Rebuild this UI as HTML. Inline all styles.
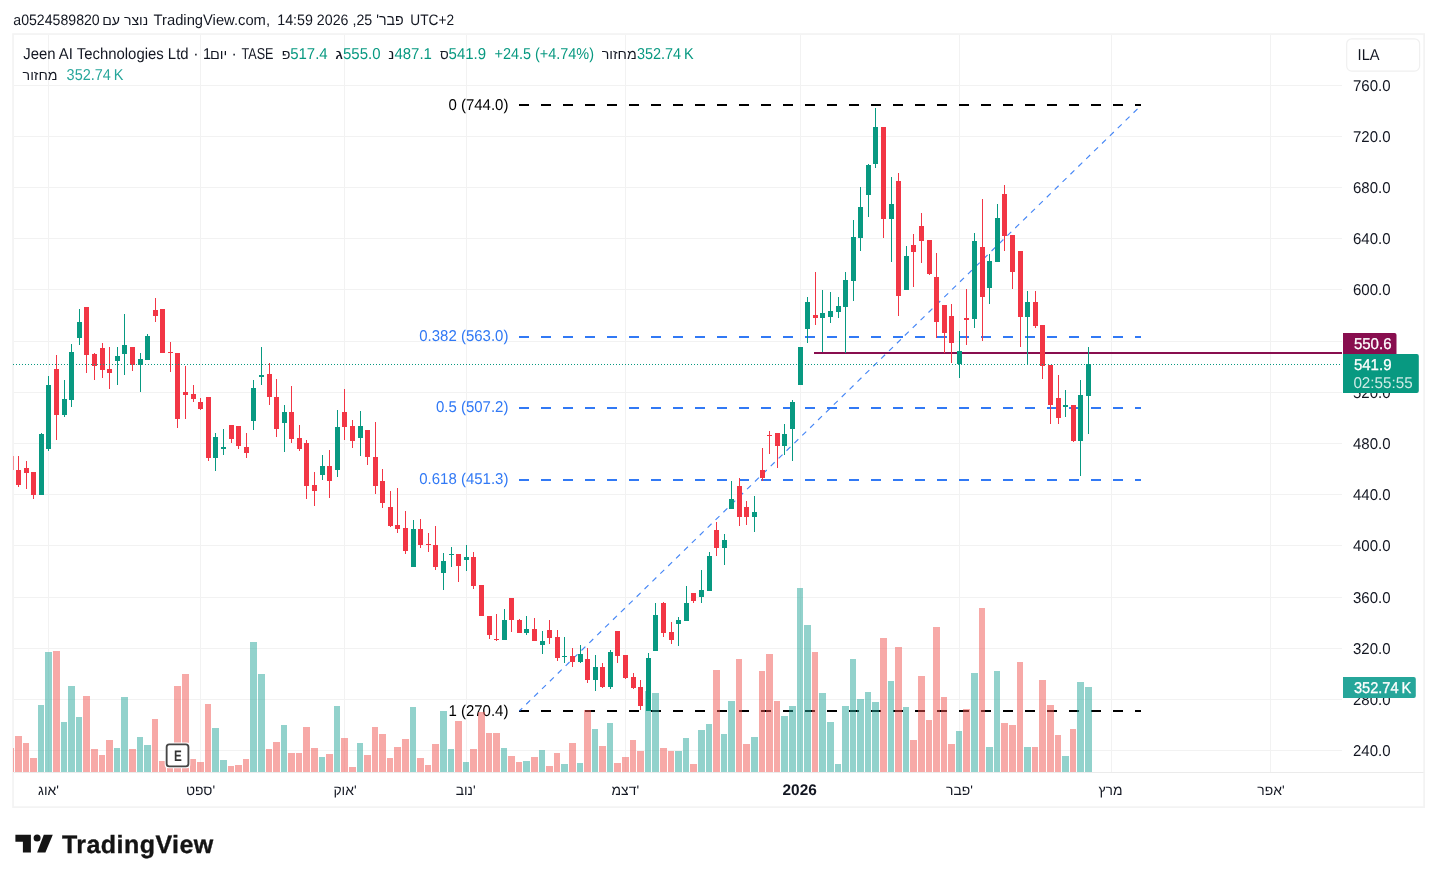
<!DOCTYPE html>
<html><head><meta charset="utf-8"><title>Jeen AI Technologies Ltd chart</title>
<style>html,body{margin:0;padding:0;background:#fff}svg{display:block}text{font-family:"Liberation Sans", Arial, sans-serif;text-rendering:geometricPrecision}</style></head>
<body><svg width="1437" height="882" viewBox="0 0 1437 882">
<rect width="1437" height="882" fill="#ffffff"/>
<g fill="#f2f2f2" shape-rendering="crispEdges"><rect x="14" y="85" width="1328" height="1"/><rect x="14" y="136" width="1328" height="1"/><rect x="14" y="187" width="1328" height="1"/><rect x="14" y="238" width="1328" height="1"/><rect x="14" y="289" width="1328" height="1"/><rect x="14" y="341" width="1328" height="1"/><rect x="14" y="392" width="1328" height="1"/><rect x="14" y="443" width="1328" height="1"/><rect x="14" y="494" width="1328" height="1"/><rect x="14" y="545" width="1328" height="1"/><rect x="14" y="597" width="1328" height="1"/><rect x="14" y="648" width="1328" height="1"/><rect x="14" y="699" width="1328" height="1"/><rect x="14" y="750" width="1328" height="1"/><rect x="48" y="35" width="1" height="737"/><rect x="200" y="35" width="1" height="737"/><rect x="344" y="35" width="1" height="737"/><rect x="466" y="35" width="1" height="737"/><rect x="625" y="35" width="1" height="737"/><rect x="800" y="35" width="1" height="737"/><rect x="959" y="35" width="1" height="737"/><rect x="1111" y="35" width="1" height="737"/><rect x="1270" y="35" width="1" height="737"/></g>
<rect x="14" y="772" width="1410" height="1" fill="#ebebeb" shape-rendering="crispEdges"/>
<line x1="519" y1="105" x2="1141" y2="105" stroke="#000000" stroke-width="2" stroke-dasharray="10 12" shape-rendering="crispEdges"/>
<line x1="519" y1="711" x2="1141" y2="711" stroke="#000000" stroke-width="2" stroke-dasharray="10 12" shape-rendering="crispEdges"/>
<line x1="519" y1="337" x2="1141" y2="337" stroke="#3179f5" stroke-width="2" stroke-dasharray="10 12" shape-rendering="crispEdges"/>
<line x1="519" y1="408" x2="1141" y2="408" stroke="#3179f5" stroke-width="2" stroke-dasharray="10 12" shape-rendering="crispEdges"/>
<line x1="519" y1="480" x2="1141" y2="480" stroke="#3179f5" stroke-width="2" stroke-dasharray="10 12" shape-rendering="crispEdges"/>
<line x1="519.3" y1="711" x2="1141" y2="105.5" stroke="#3179f5" stroke-width="1.15" stroke-dasharray="5.5 5.51" stroke-dashoffset="1.35" opacity="0.9"/>
<rect x="814" y="352" width="528" height="2" fill="#880e4f" shape-rendering="crispEdges"/>
<rect x="13.05" y="34.05" width="1411.10" height="773.10" fill="none" stroke="#f3f3f3" stroke-width="1.7"/>
<text transform="translate(508.4 110.0) scale(0.955 1)" font-size="15.7" fill="#000000" text-anchor="end" font-weight="normal" >0 (744.0)</text>
<text transform="translate(508.4 716.0) scale(0.955 1)" font-size="15.7" fill="#000000" text-anchor="end" font-weight="normal" >1 (270.4)</text>
<text transform="translate(508.4 341.0) scale(0.955 1)" font-size="15.7" fill="#3179f5" text-anchor="end" font-weight="normal" >0.382 (563.0)</text>
<text transform="translate(508.4 412.0) scale(0.955 1)" font-size="15.7" fill="#3179f5" text-anchor="end" font-weight="normal" >0.5 (507.2)</text>
<text transform="translate(508.4 484.0) scale(0.955 1)" font-size="15.7" fill="#3179f5" text-anchor="end" font-weight="normal" >0.618 (451.3)</text>
<g shape-rendering="crispEdges"><rect x="13" y="748" width="1" height="24" fill="rgba(239,83,80,0.5)"/><rect x="15" y="736" width="7" height="36" fill="rgba(239,83,80,0.5)"/><rect x="23" y="743" width="6" height="29" fill="rgba(239,83,80,0.5)"/><rect x="30" y="758" width="7" height="14" fill="rgba(239,83,80,0.5)"/><rect x="38" y="705" width="6" height="67" fill="rgba(38,166,154,0.5)"/><rect x="45" y="652" width="7" height="120" fill="rgba(38,166,154,0.5)"/><rect x="53" y="651" width="7" height="121" fill="rgba(239,83,80,0.5)"/><rect x="61" y="722" width="6" height="50" fill="rgba(38,166,154,0.5)"/><rect x="68" y="686" width="7" height="86" fill="rgba(38,166,154,0.5)"/><rect x="76" y="717" width="6" height="55" fill="rgba(38,166,154,0.5)"/><rect x="83" y="696" width="7" height="76" fill="rgba(239,83,80,0.5)"/><rect x="91" y="749" width="7" height="23" fill="rgba(239,83,80,0.5)"/><rect x="99" y="755" width="6" height="17" fill="rgba(239,83,80,0.5)"/><rect x="106" y="740" width="7" height="32" fill="rgba(239,83,80,0.5)"/><rect x="114" y="748" width="6" height="24" fill="rgba(38,166,154,0.5)"/><rect x="121" y="697" width="7" height="75" fill="rgba(38,166,154,0.5)"/><rect x="129" y="749" width="7" height="23" fill="rgba(239,83,80,0.5)"/><rect x="137" y="737" width="6" height="35" fill="rgba(38,166,154,0.5)"/><rect x="144" y="745" width="7" height="27" fill="rgba(38,166,154,0.5)"/><rect x="152" y="719" width="6" height="53" fill="rgba(239,83,80,0.5)"/><rect x="159" y="761" width="7" height="11" fill="rgba(239,83,80,0.5)"/><rect x="167" y="765" width="6" height="7" fill="rgba(239,83,80,0.5)"/><rect x="174" y="686" width="7" height="86" fill="rgba(239,83,80,0.5)"/><rect x="182" y="674" width="7" height="98" fill="rgba(239,83,80,0.5)"/><rect x="190" y="759" width="6" height="13" fill="rgba(239,83,80,0.5)"/><rect x="197" y="762" width="7" height="10" fill="rgba(239,83,80,0.5)"/><rect x="205" y="704" width="6" height="68" fill="rgba(239,83,80,0.5)"/><rect x="212" y="728" width="7" height="44" fill="rgba(38,166,154,0.5)"/><rect x="220" y="760" width="7" height="12" fill="rgba(38,166,154,0.5)"/><rect x="228" y="766" width="6" height="6" fill="rgba(239,83,80,0.5)"/><rect x="235" y="765" width="7" height="7" fill="rgba(239,83,80,0.5)"/><rect x="243" y="759" width="6" height="13" fill="rgba(239,83,80,0.5)"/><rect x="250" y="642" width="7" height="130" fill="rgba(38,166,154,0.5)"/><rect x="258" y="674" width="7" height="98" fill="rgba(38,166,154,0.5)"/><rect x="266" y="749" width="6" height="23" fill="rgba(239,83,80,0.5)"/><rect x="273" y="742" width="7" height="30" fill="rgba(239,83,80,0.5)"/><rect x="281" y="725" width="6" height="47" fill="rgba(38,166,154,0.5)"/><rect x="288" y="753" width="7" height="19" fill="rgba(239,83,80,0.5)"/><rect x="296" y="753" width="6" height="19" fill="rgba(239,83,80,0.5)"/><rect x="303" y="727" width="7" height="45" fill="rgba(239,83,80,0.5)"/><rect x="311" y="748" width="7" height="24" fill="rgba(239,83,80,0.5)"/><rect x="319" y="757" width="6" height="15" fill="rgba(38,166,154,0.5)"/><rect x="326" y="754" width="7" height="18" fill="rgba(239,83,80,0.5)"/><rect x="334" y="706" width="6" height="66" fill="rgba(38,166,154,0.5)"/><rect x="341" y="738" width="7" height="34" fill="rgba(239,83,80,0.5)"/><rect x="349" y="767" width="7" height="5" fill="rgba(239,83,80,0.5)"/><rect x="357" y="743" width="6" height="29" fill="rgba(38,166,154,0.5)"/><rect x="364" y="755" width="7" height="17" fill="rgba(239,83,80,0.5)"/><rect x="372" y="727" width="6" height="45" fill="rgba(239,83,80,0.5)"/><rect x="379" y="734" width="7" height="38" fill="rgba(239,83,80,0.5)"/><rect x="387" y="758" width="6" height="14" fill="rgba(239,83,80,0.5)"/><rect x="394" y="747" width="7" height="25" fill="rgba(239,83,80,0.5)"/><rect x="402" y="739" width="7" height="33" fill="rgba(239,83,80,0.5)"/><rect x="410" y="707" width="6" height="65" fill="rgba(38,166,154,0.5)"/><rect x="417" y="758" width="7" height="14" fill="rgba(239,83,80,0.5)"/><rect x="425" y="765" width="6" height="7" fill="rgba(239,83,80,0.5)"/><rect x="432" y="744" width="7" height="28" fill="rgba(239,83,80,0.5)"/><rect x="440" y="711" width="7" height="61" fill="rgba(38,166,154,0.5)"/><rect x="448" y="749" width="6" height="23" fill="rgba(38,166,154,0.5)"/><rect x="455" y="721" width="7" height="51" fill="rgba(239,83,80,0.5)"/><rect x="463" y="762" width="6" height="10" fill="rgba(38,166,154,0.5)"/><rect x="470" y="749" width="7" height="23" fill="rgba(239,83,80,0.5)"/><rect x="478" y="712" width="7" height="60" fill="rgba(239,83,80,0.5)"/><rect x="486" y="733" width="6" height="39" fill="rgba(239,83,80,0.5)"/><rect x="493" y="733" width="7" height="39" fill="rgba(239,83,80,0.5)"/><rect x="501" y="748" width="6" height="24" fill="rgba(38,166,154,0.5)"/><rect x="508" y="756" width="7" height="16" fill="rgba(239,83,80,0.5)"/><rect x="516" y="762" width="6" height="10" fill="rgba(239,83,80,0.5)"/><rect x="523" y="761" width="7" height="11" fill="rgba(38,166,154,0.5)"/><rect x="531" y="757" width="7" height="15" fill="rgba(239,83,80,0.5)"/><rect x="539" y="750" width="6" height="22" fill="rgba(38,166,154,0.5)"/><rect x="546" y="766" width="7" height="6" fill="rgba(239,83,80,0.5)"/><rect x="554" y="753" width="6" height="19" fill="rgba(239,83,80,0.5)"/><rect x="561" y="764" width="7" height="8" fill="rgba(38,166,154,0.5)"/><rect x="569" y="743" width="7" height="29" fill="rgba(239,83,80,0.5)"/><rect x="577" y="763" width="6" height="9" fill="rgba(38,166,154,0.5)"/><rect x="584" y="710" width="7" height="62" fill="rgba(239,83,80,0.5)"/><rect x="592" y="729" width="6" height="43" fill="rgba(38,166,154,0.5)"/><rect x="599" y="746" width="7" height="26" fill="rgba(239,83,80,0.5)"/><rect x="607" y="723" width="6" height="49" fill="rgba(38,166,154,0.5)"/><rect x="614" y="763" width="7" height="9" fill="rgba(239,83,80,0.5)"/><rect x="622" y="757" width="7" height="15" fill="rgba(239,83,80,0.5)"/><rect x="630" y="740" width="6" height="32" fill="rgba(239,83,80,0.5)"/><rect x="637" y="751" width="7" height="21" fill="rgba(239,83,80,0.5)"/><rect x="645" y="691" width="6" height="81" fill="rgba(38,166,154,0.5)"/><rect x="652" y="693" width="7" height="79" fill="rgba(38,166,154,0.5)"/><rect x="660" y="748" width="7" height="24" fill="rgba(239,83,80,0.5)"/><rect x="668" y="751" width="6" height="21" fill="rgba(239,83,80,0.5)"/><rect x="675" y="751" width="7" height="21" fill="rgba(38,166,154,0.5)"/><rect x="683" y="738" width="6" height="34" fill="rgba(38,166,154,0.5)"/><rect x="690" y="764" width="7" height="8" fill="rgba(239,83,80,0.5)"/><rect x="698" y="730" width="7" height="42" fill="rgba(38,166,154,0.5)"/><rect x="706" y="724" width="6" height="48" fill="rgba(38,166,154,0.5)"/><rect x="713" y="670" width="7" height="102" fill="rgba(239,83,80,0.5)"/><rect x="721" y="734" width="6" height="38" fill="rgba(38,166,154,0.5)"/><rect x="728" y="701" width="7" height="71" fill="rgba(38,166,154,0.5)"/><rect x="736" y="659" width="6" height="113" fill="rgba(239,83,80,0.5)"/><rect x="743" y="744" width="7" height="28" fill="rgba(239,83,80,0.5)"/><rect x="751" y="737" width="7" height="35" fill="rgba(38,166,154,0.5)"/><rect x="759" y="671" width="6" height="101" fill="rgba(239,83,80,0.5)"/><rect x="766" y="654" width="7" height="118" fill="rgba(239,83,80,0.5)"/><rect x="774" y="701" width="6" height="71" fill="rgba(239,83,80,0.5)"/><rect x="781" y="716" width="7" height="56" fill="rgba(38,166,154,0.5)"/><rect x="789" y="706" width="7" height="66" fill="rgba(38,166,154,0.5)"/><rect x="797" y="588" width="6" height="184" fill="rgba(38,166,154,0.5)"/><rect x="804" y="625" width="7" height="147" fill="rgba(38,166,154,0.5)"/><rect x="812" y="652" width="6" height="120" fill="rgba(239,83,80,0.5)"/><rect x="819" y="693" width="7" height="79" fill="rgba(38,166,154,0.5)"/><rect x="827" y="722" width="7" height="50" fill="rgba(38,166,154,0.5)"/><rect x="835" y="764" width="6" height="8" fill="rgba(38,166,154,0.5)"/><rect x="842" y="706" width="7" height="66" fill="rgba(38,166,154,0.5)"/><rect x="850" y="659" width="6" height="113" fill="rgba(38,166,154,0.5)"/><rect x="857" y="699" width="7" height="73" fill="rgba(38,166,154,0.5)"/><rect x="865" y="692" width="6" height="80" fill="rgba(38,166,154,0.5)"/><rect x="872" y="702" width="7" height="70" fill="rgba(38,166,154,0.5)"/><rect x="880" y="638" width="7" height="134" fill="rgba(239,83,80,0.5)"/><rect x="888" y="681" width="6" height="91" fill="rgba(38,166,154,0.5)"/><rect x="895" y="647" width="7" height="125" fill="rgba(239,83,80,0.5)"/><rect x="903" y="707" width="6" height="65" fill="rgba(38,166,154,0.5)"/><rect x="910" y="740" width="7" height="32" fill="rgba(239,83,80,0.5)"/><rect x="918" y="676" width="7" height="96" fill="rgba(239,83,80,0.5)"/><rect x="926" y="720" width="6" height="52" fill="rgba(239,83,80,0.5)"/><rect x="933" y="627" width="7" height="145" fill="rgba(239,83,80,0.5)"/><rect x="941" y="697" width="6" height="75" fill="rgba(239,83,80,0.5)"/><rect x="948" y="744" width="7" height="28" fill="rgba(239,83,80,0.5)"/><rect x="956" y="731" width="6" height="41" fill="rgba(38,166,154,0.5)"/><rect x="963" y="709" width="7" height="63" fill="rgba(239,83,80,0.5)"/><rect x="971" y="673" width="7" height="99" fill="rgba(38,166,154,0.5)"/><rect x="979" y="608" width="6" height="164" fill="rgba(239,83,80,0.5)"/><rect x="986" y="747" width="7" height="25" fill="rgba(38,166,154,0.5)"/><rect x="994" y="671" width="6" height="101" fill="rgba(38,166,154,0.5)"/><rect x="1001" y="723" width="7" height="49" fill="rgba(239,83,80,0.5)"/><rect x="1009" y="725" width="7" height="47" fill="rgba(239,83,80,0.5)"/><rect x="1017" y="662" width="6" height="110" fill="rgba(239,83,80,0.5)"/><rect x="1024" y="747" width="7" height="25" fill="rgba(38,166,154,0.5)"/><rect x="1032" y="747" width="6" height="25" fill="rgba(239,83,80,0.5)"/><rect x="1039" y="680" width="7" height="92" fill="rgba(239,83,80,0.5)"/><rect x="1047" y="705" width="7" height="67" fill="rgba(239,83,80,0.5)"/><rect x="1055" y="735" width="6" height="37" fill="rgba(239,83,80,0.5)"/><rect x="1062" y="756" width="7" height="16" fill="rgba(38,166,154,0.5)"/><rect x="1070" y="729" width="6" height="43" fill="rgba(239,83,80,0.5)"/><rect x="1077" y="682" width="7" height="90" fill="rgba(38,166,154,0.5)"/><rect x="1085" y="687" width="7" height="85" fill="rgba(38,166,154,0.5)"/></g>
<g shape-rendering="crispEdges"><rect x="13" y="456" width="1" height="14" fill="#f23645" opacity="0.55"/><rect x="18" y="456" width="1" height="31" fill="#f23645"/><rect x="16" y="470" width="5" height="15" fill="#f23645"/><rect x="26" y="461" width="1" height="28" fill="#f23645"/><rect x="24" y="468" width="5" height="5" fill="#f23645"/><rect x="33" y="472" width="1" height="27" fill="#f23645"/><rect x="31" y="472" width="5" height="23" fill="#f23645"/><rect x="41" y="433" width="1" height="62" fill="#089981"/><rect x="39" y="434" width="5" height="61" fill="#089981"/><rect x="48" y="376" width="1" height="75" fill="#089981"/><rect x="46" y="385" width="5" height="64" fill="#089981"/><rect x="56" y="355" width="1" height="85" fill="#f23645"/><rect x="54" y="369" width="5" height="46" fill="#f23645"/><rect x="64" y="380" width="1" height="37" fill="#089981"/><rect x="62" y="399" width="5" height="16" fill="#089981"/><rect x="71" y="344" width="1" height="63" fill="#089981"/><rect x="69" y="352" width="5" height="48" fill="#089981"/><rect x="79" y="309" width="1" height="36" fill="#089981"/><rect x="77" y="322" width="5" height="16" fill="#089981"/><rect x="86" y="307" width="1" height="66" fill="#f23645"/><rect x="84" y="307" width="5" height="48" fill="#f23645"/><rect x="94" y="353" width="1" height="27" fill="#f23645"/><rect x="92" y="354" width="5" height="12" fill="#f23645"/><rect x="102" y="343" width="1" height="35" fill="#f23645"/><rect x="100" y="348" width="5" height="22" fill="#f23645"/><rect x="109" y="347" width="1" height="42" fill="#f23645"/><rect x="107" y="369" width="5" height="4" fill="#f23645"/><rect x="117" y="347" width="1" height="38" fill="#089981"/><rect x="115" y="356" width="5" height="5" fill="#089981"/><rect x="124" y="314" width="1" height="61" fill="#089981"/><rect x="122" y="345" width="5" height="9" fill="#089981"/><rect x="132" y="347" width="1" height="24" fill="#f23645"/><rect x="130" y="347" width="5" height="18" fill="#f23645"/><rect x="140" y="353" width="1" height="39" fill="#089981"/><rect x="138" y="359" width="5" height="6" fill="#089981"/><rect x="147" y="334" width="1" height="26" fill="#089981"/><rect x="145" y="336" width="5" height="24" fill="#089981"/><rect x="155" y="298" width="1" height="24" fill="#f23645"/><rect x="153" y="310" width="5" height="6" fill="#f23645"/><rect x="162" y="309" width="1" height="44" fill="#f23645"/><rect x="160" y="309" width="5" height="44" fill="#f23645"/><rect x="170" y="342" width="1" height="30" fill="#f23645"/><rect x="168" y="352" width="5" height="1" fill="#f23645"/><rect x="177" y="353" width="1" height="75" fill="#f23645"/><rect x="175" y="353" width="5" height="66" fill="#f23645"/><rect x="185" y="366" width="1" height="53" fill="#f23645"/><rect x="183" y="392" width="5" height="3" fill="#f23645"/><rect x="193" y="385" width="1" height="17" fill="#f23645"/><rect x="191" y="394" width="5" height="5" fill="#f23645"/><rect x="200" y="398" width="1" height="12" fill="#f23645"/><rect x="198" y="402" width="5" height="7" fill="#f23645"/><rect x="208" y="397" width="1" height="64" fill="#f23645"/><rect x="206" y="397" width="5" height="61" fill="#f23645"/><rect x="215" y="433" width="1" height="38" fill="#089981"/><rect x="213" y="437" width="5" height="21" fill="#089981"/><rect x="223" y="429" width="1" height="26" fill="#089981"/><rect x="221" y="447" width="5" height="2" fill="#089981"/><rect x="231" y="425" width="1" height="18" fill="#f23645"/><rect x="229" y="425" width="5" height="14" fill="#f23645"/><rect x="238" y="426" width="1" height="23" fill="#f23645"/><rect x="236" y="426" width="5" height="20" fill="#f23645"/><rect x="246" y="433" width="1" height="25" fill="#f23645"/><rect x="244" y="447" width="5" height="6" fill="#f23645"/><rect x="253" y="380" width="1" height="50" fill="#089981"/><rect x="251" y="388" width="5" height="33" fill="#089981"/><rect x="261" y="347" width="1" height="38" fill="#089981"/><rect x="259" y="375" width="5" height="2" fill="#089981"/><rect x="269" y="363" width="1" height="42" fill="#f23645"/><rect x="267" y="374" width="5" height="23" fill="#f23645"/><rect x="276" y="379" width="1" height="58" fill="#f23645"/><rect x="274" y="397" width="5" height="32" fill="#f23645"/><rect x="284" y="405" width="1" height="47" fill="#089981"/><rect x="282" y="412" width="5" height="11" fill="#089981"/><rect x="291" y="386" width="1" height="57" fill="#f23645"/><rect x="289" y="412" width="5" height="27" fill="#f23645"/><rect x="299" y="425" width="1" height="26" fill="#f23645"/><rect x="297" y="438" width="5" height="11" fill="#f23645"/><rect x="306" y="440" width="1" height="59" fill="#f23645"/><rect x="304" y="443" width="5" height="43" fill="#f23645"/><rect x="314" y="472" width="1" height="34" fill="#f23645"/><rect x="312" y="485" width="5" height="6" fill="#f23645"/><rect x="322" y="455" width="1" height="25" fill="#089981"/><rect x="320" y="466" width="5" height="9" fill="#089981"/><rect x="329" y="450" width="1" height="48" fill="#f23645"/><rect x="327" y="466" width="5" height="15" fill="#f23645"/><rect x="337" y="410" width="1" height="67" fill="#089981"/><rect x="335" y="427" width="5" height="43" fill="#089981"/><rect x="344" y="389" width="1" height="51" fill="#f23645"/><rect x="342" y="412" width="5" height="15" fill="#f23645"/><rect x="352" y="420" width="1" height="28" fill="#f23645"/><rect x="350" y="426" width="5" height="15" fill="#f23645"/><rect x="360" y="411" width="1" height="45" fill="#089981"/><rect x="358" y="426" width="5" height="12" fill="#089981"/><rect x="367" y="430" width="1" height="35" fill="#f23645"/><rect x="365" y="430" width="5" height="27" fill="#f23645"/><rect x="375" y="422" width="1" height="72" fill="#f23645"/><rect x="373" y="457" width="5" height="29" fill="#f23645"/><rect x="382" y="469" width="1" height="39" fill="#f23645"/><rect x="380" y="481" width="5" height="22" fill="#f23645"/><rect x="390" y="491" width="1" height="36" fill="#f23645"/><rect x="388" y="507" width="5" height="19" fill="#f23645"/><rect x="397" y="488" width="1" height="45" fill="#f23645"/><rect x="395" y="525" width="5" height="4" fill="#f23645"/><rect x="405" y="511" width="1" height="43" fill="#f23645"/><rect x="403" y="528" width="5" height="23" fill="#f23645"/><rect x="413" y="520" width="1" height="47" fill="#089981"/><rect x="411" y="529" width="5" height="38" fill="#089981"/><rect x="420" y="519" width="1" height="29" fill="#f23645"/><rect x="418" y="529" width="5" height="16" fill="#f23645"/><rect x="428" y="533" width="1" height="19" fill="#f23645"/><rect x="426" y="544" width="5" height="1" fill="#f23645"/><rect x="435" y="526" width="1" height="44" fill="#f23645"/><rect x="433" y="545" width="5" height="22" fill="#f23645"/><rect x="443" y="553" width="1" height="37" fill="#089981"/><rect x="441" y="561" width="5" height="12" fill="#089981"/><rect x="451" y="547" width="1" height="20" fill="#089981"/><rect x="449" y="554" width="5" height="1" fill="#089981"/><rect x="458" y="554" width="1" height="28" fill="#f23645"/><rect x="456" y="554" width="5" height="12" fill="#f23645"/><rect x="466" y="545" width="1" height="26" fill="#089981"/><rect x="464" y="557" width="5" height="3" fill="#089981"/><rect x="473" y="552" width="1" height="37" fill="#f23645"/><rect x="471" y="557" width="5" height="29" fill="#f23645"/><rect x="481" y="585" width="1" height="31" fill="#f23645"/><rect x="479" y="585" width="5" height="31" fill="#f23645"/><rect x="489" y="616" width="1" height="23" fill="#f23645"/><rect x="487" y="616" width="5" height="19" fill="#f23645"/><rect x="496" y="614" width="1" height="27" fill="#f23645"/><rect x="494" y="639" width="5" height="1" fill="#f23645"/><rect x="504" y="609" width="1" height="31" fill="#089981"/><rect x="502" y="620" width="5" height="20" fill="#089981"/><rect x="511" y="598" width="1" height="34" fill="#f23645"/><rect x="509" y="598" width="5" height="22" fill="#f23645"/><rect x="519" y="619" width="1" height="14" fill="#f23645"/><rect x="517" y="620" width="5" height="13" fill="#f23645"/><rect x="526" y="616" width="1" height="19" fill="#089981"/><rect x="524" y="629" width="5" height="4" fill="#089981"/><rect x="534" y="618" width="1" height="23" fill="#f23645"/><rect x="532" y="629" width="5" height="12" fill="#f23645"/><rect x="542" y="631" width="1" height="23" fill="#089981"/><rect x="540" y="641" width="5" height="4" fill="#089981"/><rect x="549" y="620" width="1" height="24" fill="#f23645"/><rect x="547" y="630" width="5" height="8" fill="#f23645"/><rect x="557" y="630" width="1" height="31" fill="#f23645"/><rect x="555" y="637" width="5" height="21" fill="#f23645"/><rect x="564" y="637" width="1" height="26" fill="#089981"/><rect x="562" y="656" width="5" height="1" fill="#089981"/><rect x="572" y="648" width="1" height="19" fill="#f23645"/><rect x="570" y="656" width="5" height="6" fill="#f23645"/><rect x="580" y="645" width="1" height="18" fill="#089981"/><rect x="578" y="654" width="5" height="8" fill="#089981"/><rect x="587" y="648" width="1" height="35" fill="#f23645"/><rect x="585" y="659" width="5" height="21" fill="#f23645"/><rect x="595" y="655" width="1" height="36" fill="#089981"/><rect x="593" y="667" width="5" height="13" fill="#089981"/><rect x="602" y="663" width="1" height="25" fill="#f23645"/><rect x="600" y="667" width="5" height="20" fill="#f23645"/><rect x="610" y="650" width="1" height="39" fill="#089981"/><rect x="608" y="652" width="5" height="35" fill="#089981"/><rect x="617" y="631" width="1" height="32" fill="#f23645"/><rect x="615" y="631" width="5" height="25" fill="#f23645"/><rect x="625" y="655" width="1" height="24" fill="#f23645"/><rect x="623" y="655" width="5" height="23" fill="#f23645"/><rect x="633" y="673" width="1" height="16" fill="#f23645"/><rect x="631" y="677" width="5" height="11" fill="#f23645"/><rect x="640" y="680" width="1" height="30" fill="#f23645"/><rect x="638" y="687" width="5" height="19" fill="#f23645"/><rect x="648" y="653" width="1" height="58" fill="#089981"/><rect x="646" y="658" width="5" height="53" fill="#089981"/><rect x="655" y="603" width="1" height="48" fill="#089981"/><rect x="653" y="615" width="5" height="36" fill="#089981"/><rect x="663" y="602" width="1" height="35" fill="#f23645"/><rect x="661" y="603" width="5" height="30" fill="#f23645"/><rect x="671" y="622" width="1" height="22" fill="#f23645"/><rect x="669" y="632" width="5" height="8" fill="#f23645"/><rect x="678" y="617" width="1" height="29" fill="#089981"/><rect x="676" y="620" width="5" height="4" fill="#089981"/><rect x="686" y="586" width="1" height="35" fill="#089981"/><rect x="684" y="603" width="5" height="18" fill="#089981"/><rect x="693" y="593" width="1" height="10" fill="#f23645"/><rect x="691" y="593" width="5" height="8" fill="#f23645"/><rect x="701" y="570" width="1" height="33" fill="#089981"/><rect x="699" y="590" width="5" height="7" fill="#089981"/><rect x="709" y="552" width="1" height="39" fill="#089981"/><rect x="707" y="556" width="5" height="35" fill="#089981"/><rect x="716" y="522" width="1" height="34" fill="#f23645"/><rect x="714" y="530" width="5" height="18" fill="#f23645"/><rect x="724" y="534" width="1" height="31" fill="#089981"/><rect x="722" y="540" width="5" height="8" fill="#089981"/><rect x="731" y="481" width="1" height="28" fill="#089981"/><rect x="729" y="499" width="5" height="10" fill="#089981"/><rect x="739" y="478" width="1" height="48" fill="#f23645"/><rect x="737" y="486" width="5" height="31" fill="#f23645"/><rect x="746" y="501" width="1" height="24" fill="#f23645"/><rect x="744" y="507" width="5" height="10" fill="#f23645"/><rect x="754" y="496" width="1" height="36" fill="#089981"/><rect x="752" y="512" width="5" height="5" fill="#089981"/><rect x="762" y="448" width="1" height="33" fill="#f23645"/><rect x="760" y="470" width="5" height="8" fill="#f23645"/><rect x="769" y="431" width="1" height="23" fill="#f23645"/><rect x="767" y="435" width="5" height="1" fill="#f23645"/><rect x="777" y="433" width="1" height="35" fill="#f23645"/><rect x="775" y="433" width="5" height="13" fill="#f23645"/><rect x="784" y="424" width="1" height="31" fill="#089981"/><rect x="782" y="434" width="5" height="12" fill="#089981"/><rect x="792" y="400" width="1" height="61" fill="#089981"/><rect x="790" y="402" width="5" height="27" fill="#089981"/><rect x="800" y="347" width="1" height="38" fill="#089981"/><rect x="798" y="347" width="5" height="38" fill="#089981"/><rect x="807" y="297" width="1" height="46" fill="#089981"/><rect x="805" y="302" width="5" height="27" fill="#089981"/><rect x="815" y="272" width="1" height="53" fill="#f23645"/><rect x="813" y="315" width="5" height="3" fill="#f23645"/><rect x="822" y="290" width="1" height="62" fill="#089981"/><rect x="820" y="313" width="5" height="5" fill="#089981"/><rect x="830" y="292" width="1" height="31" fill="#089981"/><rect x="828" y="311" width="5" height="6" fill="#089981"/><rect x="838" y="297" width="1" height="21" fill="#089981"/><rect x="836" y="306" width="5" height="6" fill="#089981"/><rect x="845" y="272" width="1" height="81" fill="#089981"/><rect x="843" y="280" width="5" height="27" fill="#089981"/><rect x="853" y="220" width="1" height="81" fill="#089981"/><rect x="851" y="237" width="5" height="44" fill="#089981"/><rect x="860" y="187" width="1" height="64" fill="#089981"/><rect x="858" y="207" width="5" height="31" fill="#089981"/><rect x="868" y="164" width="1" height="53" fill="#089981"/><rect x="866" y="165" width="5" height="30" fill="#089981"/><rect x="875" y="108" width="1" height="60" fill="#089981"/><rect x="873" y="127" width="5" height="37" fill="#089981"/><rect x="883" y="127" width="1" height="111" fill="#f23645"/><rect x="881" y="127" width="5" height="92" fill="#f23645"/><rect x="891" y="177" width="1" height="85" fill="#089981"/><rect x="889" y="204" width="5" height="15" fill="#089981"/><rect x="898" y="173" width="1" height="143" fill="#f23645"/><rect x="896" y="181" width="5" height="115" fill="#f23645"/><rect x="906" y="246" width="1" height="44" fill="#089981"/><rect x="904" y="256" width="5" height="34" fill="#089981"/><rect x="913" y="234" width="1" height="53" fill="#f23645"/><rect x="911" y="245" width="5" height="7" fill="#f23645"/><rect x="921" y="213" width="1" height="50" fill="#f23645"/><rect x="919" y="226" width="5" height="15" fill="#f23645"/><rect x="929" y="240" width="1" height="35" fill="#f23645"/><rect x="927" y="240" width="5" height="34" fill="#f23645"/><rect x="936" y="253" width="1" height="85" fill="#f23645"/><rect x="934" y="277" width="5" height="45" fill="#f23645"/><rect x="944" y="305" width="1" height="48" fill="#f23645"/><rect x="942" y="305" width="5" height="28" fill="#f23645"/><rect x="951" y="304" width="1" height="59" fill="#f23645"/><rect x="949" y="316" width="5" height="27" fill="#f23645"/><rect x="959" y="331" width="1" height="47" fill="#089981"/><rect x="957" y="351" width="5" height="13" fill="#089981"/><rect x="966" y="289" width="1" height="56" fill="#f23645"/><rect x="964" y="318" width="5" height="2" fill="#f23645"/><rect x="974" y="233" width="1" height="95" fill="#089981"/><rect x="972" y="241" width="5" height="78" fill="#089981"/><rect x="982" y="199" width="1" height="142" fill="#f23645"/><rect x="980" y="247" width="5" height="50" fill="#f23645"/><rect x="989" y="254" width="1" height="50" fill="#089981"/><rect x="987" y="261" width="5" height="27" fill="#089981"/><rect x="997" y="204" width="1" height="58" fill="#089981"/><rect x="995" y="218" width="5" height="44" fill="#089981"/><rect x="1004" y="185" width="1" height="66" fill="#f23645"/><rect x="1002" y="194" width="5" height="42" fill="#f23645"/><rect x="1012" y="235" width="1" height="54" fill="#f23645"/><rect x="1010" y="235" width="5" height="37" fill="#f23645"/><rect x="1020" y="251" width="1" height="96" fill="#f23645"/><rect x="1018" y="251" width="5" height="66" fill="#f23645"/><rect x="1027" y="291" width="1" height="74" fill="#089981"/><rect x="1025" y="302" width="5" height="15" fill="#089981"/><rect x="1035" y="291" width="1" height="37" fill="#f23645"/><rect x="1033" y="302" width="5" height="24" fill="#f23645"/><rect x="1042" y="325" width="1" height="54" fill="#f23645"/><rect x="1040" y="325" width="5" height="41" fill="#f23645"/><rect x="1050" y="365" width="1" height="59" fill="#f23645"/><rect x="1048" y="365" width="5" height="40" fill="#f23645"/><rect x="1058" y="375" width="1" height="49" fill="#f23645"/><rect x="1056" y="398" width="5" height="20" fill="#f23645"/><rect x="1065" y="390" width="1" height="27" fill="#089981"/><rect x="1063" y="405" width="5" height="2" fill="#089981"/><rect x="1073" y="405" width="1" height="37" fill="#f23645"/><rect x="1071" y="405" width="5" height="36" fill="#f23645"/><rect x="1080" y="380" width="1" height="96" fill="#089981"/><rect x="1078" y="395" width="5" height="46" fill="#089981"/><rect x="1088" y="347" width="1" height="87" fill="#089981"/><rect x="1086" y="364" width="5" height="32" fill="#089981"/></g>
<line x1="13" y1="364.5" x2="1342" y2="364.5" stroke="#089981" stroke-width="1" stroke-dasharray="1 2" shape-rendering="crispEdges"/>
<text x="1353.0" y="90.5" font-size="15.6" fill="#131722" text-anchor="start" font-weight="normal"  textLength="37.6" lengthAdjust="spacingAndGlyphs">760.0</text>
<text x="1353.0" y="141.5" font-size="15.6" fill="#131722" text-anchor="start" font-weight="normal"  textLength="37.6" lengthAdjust="spacingAndGlyphs">720.0</text>
<text x="1353.0" y="192.5" font-size="15.6" fill="#131722" text-anchor="start" font-weight="normal"  textLength="37.6" lengthAdjust="spacingAndGlyphs">680.0</text>
<text x="1353.0" y="243.5" font-size="15.6" fill="#131722" text-anchor="start" font-weight="normal"  textLength="37.6" lengthAdjust="spacingAndGlyphs">640.0</text>
<text x="1353.0" y="294.5" font-size="15.6" fill="#131722" text-anchor="start" font-weight="normal"  textLength="37.6" lengthAdjust="spacingAndGlyphs">600.0</text>
<text x="1353.0" y="346.5" font-size="15.6" fill="#131722" text-anchor="start" font-weight="normal"  textLength="37.6" lengthAdjust="spacingAndGlyphs">560.0</text>
<text x="1353.0" y="397.5" font-size="15.6" fill="#131722" text-anchor="start" font-weight="normal"  textLength="37.6" lengthAdjust="spacingAndGlyphs">520.0</text>
<text x="1353.0" y="448.5" font-size="15.6" fill="#131722" text-anchor="start" font-weight="normal"  textLength="37.6" lengthAdjust="spacingAndGlyphs">480.0</text>
<text x="1353.0" y="499.5" font-size="15.6" fill="#131722" text-anchor="start" font-weight="normal"  textLength="37.6" lengthAdjust="spacingAndGlyphs">440.0</text>
<text x="1353.0" y="550.5" font-size="15.6" fill="#131722" text-anchor="start" font-weight="normal"  textLength="37.6" lengthAdjust="spacingAndGlyphs">400.0</text>
<text x="1353.0" y="602.5" font-size="15.6" fill="#131722" text-anchor="start" font-weight="normal"  textLength="37.6" lengthAdjust="spacingAndGlyphs">360.0</text>
<text x="1353.0" y="653.5" font-size="15.6" fill="#131722" text-anchor="start" font-weight="normal"  textLength="37.6" lengthAdjust="spacingAndGlyphs">320.0</text>
<text x="1353.0" y="704.5" font-size="15.6" fill="#131722" text-anchor="start" font-weight="normal"  textLength="37.6" lengthAdjust="spacingAndGlyphs">280.0</text>
<text x="1353.0" y="755.5" font-size="15.6" fill="#131722" text-anchor="start" font-weight="normal"  textLength="37.6" lengthAdjust="spacingAndGlyphs">240.0</text>
<path d="M1343 333h51.5a2 2 0 0 1 2 2v19h-53.5z" fill="#880e4f"/>
<text x="1353.9" y="348.6" font-size="15.6" fill="#ffffff" text-anchor="start" font-weight="normal" stroke="#ffffff" stroke-width="0.3" textLength="37.6" lengthAdjust="spacingAndGlyphs">550.6</text>
<path d="M1343 354h73.8a2 2 0 0 1 2 2v35a2 2 0 0 1 -2 2h-73.8z" fill="#089981"/>
<text x="1353.9" y="369.7" font-size="15.6" fill="#ffffff" text-anchor="start" font-weight="normal" stroke="#ffffff" stroke-width="0.3" textLength="37.6" lengthAdjust="spacingAndGlyphs">541.9</text>
<text x="1353.4" y="387.8" font-size="15.6" fill="#ffffff" text-anchor="start" font-weight="normal" fill-opacity="0.8" textLength="59.3" lengthAdjust="spacingAndGlyphs">02:55:55</text>
<path d="M1343 677h70.8a2 2 0 0 1 2 2v17a2 2 0 0 1 -2 2h-70.8z" fill="#26a69a"/>
<text x="1354.0" y="692.8" font-size="15.6" fill="#ffffff" text-anchor="start" font-weight="normal" stroke="#ffffff" stroke-width="0.3" textLength="57.2" lengthAdjust="spacingAndGlyphs">352.74&#8201;K</text>
<rect x="1346.7" y="38.8" width="72.9" height="32.3" rx="5" fill="#ffffff" stroke="#f0f0f0" stroke-width="1.2"/>
<text x="1357.6" y="60.1" font-size="15.8" fill="#131722" text-anchor="start" font-weight="normal"  textLength="22" lengthAdjust="spacingAndGlyphs">ILA</text>
<rect x="164.7" y="742.4" width="25.6" height="25.9" rx="3.6" fill="#ffffff"/>
<rect x="166.65" y="744.35" width="21.75" height="22.0" rx="2.6" fill="#ffffff" stroke="#464646" stroke-width="1.85"/>
<text transform="translate(177.9 760.9) scale(0.77 1)" font-size="15.2" fill="#333333" text-anchor="middle" font-weight="bold" >E</text>
<text x="48.5" y="795.3" font-size="13.9" fill="#131722" text-anchor="middle" font-weight="normal" >אוג'</text>
<text x="200.5" y="795.3" font-size="13.9" fill="#131722" text-anchor="middle" font-weight="normal" >ספט'</text>
<text x="345" y="795.3" font-size="13.9" fill="#131722" text-anchor="middle" font-weight="normal" >אוק'</text>
<text x="465.7" y="795.3" font-size="13.9" fill="#131722" text-anchor="middle" font-weight="normal" >נוב'</text>
<text x="625.3" y="795.3" font-size="13.9" fill="#131722" text-anchor="middle" font-weight="normal" >דצמ'</text>
<text x="799.7" y="795.3" font-size="15.4" fill="#131722" text-anchor="middle" font-weight="bold" >2026</text>
<text x="959.5" y="795.3" font-size="13.9" fill="#131722" text-anchor="middle" font-weight="normal" >פבר'</text>
<text x="1110.6" y="795.3" font-size="13.9" fill="#131722" text-anchor="middle" font-weight="normal" >מרץ</text>
<text x="1271" y="795.3" font-size="13.9" fill="#131722" text-anchor="middle" font-weight="normal" >אפר'</text>
<text x="13.3" y="25" font-size="15.1" fill="#131722" text-anchor="start" font-weight="normal"  textLength="86.4" lengthAdjust="spacingAndGlyphs">a0524589820</text>
<text x="102.2" y="25" font-size="13.4" fill="#131722" text-anchor="start" font-weight="normal"  textLength="46.1" lengthAdjust="spacingAndGlyphs">נוצר עם</text>
<text x="153.6" y="25" font-size="15.1" fill="#131722" text-anchor="start" font-weight="normal"  textLength="116.4" lengthAdjust="spacingAndGlyphs">TradingView.com,</text>
<text x="277.3" y="25" font-size="15.1" fill="#131722" text-anchor="start" font-weight="normal"  textLength="126.4" lengthAdjust="spacingAndGlyphs">פבר' 25, 2026 14:59</text>
<text x="410.3" y="25" font-size="15.1" fill="#131722" text-anchor="start" font-weight="normal"  textLength="43.7" lengthAdjust="spacingAndGlyphs">UTC+2</text>
<text x="23.2" y="58.9" font-size="15.8" fill="#131722" text-anchor="start" font-weight="normal"  textLength="165.4" lengthAdjust="spacingAndGlyphs">Jeen AI Technologies Ltd</text>
<text x="195.9" y="58.9" font-size="15.8" fill="#131722" text-anchor="middle" font-weight="normal" >·</text>
<text transform="translate(203.0 58.9) scale(0.92 1)" font-size="15.8" fill="#131722" text-anchor="start" font-weight="normal" >1</text>
<text x="209.9" y="58.9" font-size="13.4" fill="#131722" text-anchor="start" font-weight="normal"  textLength="17.3" lengthAdjust="spacingAndGlyphs">יום</text>
<text x="234.2" y="58.9" font-size="15.8" fill="#131722" text-anchor="middle" font-weight="normal" >·</text>
<text x="241.5" y="58.9" font-size="15.8" fill="#131722" text-anchor="start" font-weight="normal"  textLength="32.0" lengthAdjust="spacingAndGlyphs">TASE</text>
<text x="281.7" y="58.9" font-size="13.4" fill="#131722" text-anchor="start" font-weight="normal"  textLength="8.7" lengthAdjust="spacingAndGlyphs">פ</text>
<text x="290.2" y="58.9" font-size="15.8" fill="#089981" text-anchor="start" font-weight="normal"  textLength="37.5" lengthAdjust="spacingAndGlyphs">517.4</text>
<text x="335.3" y="58.9" font-size="13.4" fill="#131722" text-anchor="start" font-weight="normal"  textLength="7.8" lengthAdjust="spacingAndGlyphs">ג</text>
<text x="343.0" y="58.9" font-size="15.8" fill="#089981" text-anchor="start" font-weight="normal"  textLength="37.5" lengthAdjust="spacingAndGlyphs">555.0</text>
<text x="388.3" y="58.9" font-size="13.4" fill="#131722" text-anchor="start" font-weight="normal"  textLength="6.2" lengthAdjust="spacingAndGlyphs">נ</text>
<text x="394.4" y="58.9" font-size="15.8" fill="#089981" text-anchor="start" font-weight="normal"  textLength="37.5" lengthAdjust="spacingAndGlyphs">487.1</text>
<text x="440.0" y="58.9" font-size="13.4" fill="#131722" text-anchor="start" font-weight="normal"  textLength="8.7" lengthAdjust="spacingAndGlyphs">ס</text>
<text x="448.6" y="58.9" font-size="15.8" fill="#089981" text-anchor="start" font-weight="normal"  textLength="37.5" lengthAdjust="spacingAndGlyphs">541.9</text>
<text x="494.5" y="58.9" font-size="15.8" fill="#089981" text-anchor="start" font-weight="normal"  textLength="99.5" lengthAdjust="spacingAndGlyphs">+24.5 (+4.74%)</text>
<text x="601.7" y="58.9" font-size="13.4" fill="#131722" text-anchor="start" font-weight="normal"  textLength="35.0" lengthAdjust="spacingAndGlyphs">מחזור</text>
<text x="637.0" y="58.9" font-size="15.8" fill="#089981" text-anchor="start" font-weight="normal"  textLength="56.6" lengthAdjust="spacingAndGlyphs">352.74&#8201;K</text>
<text x="22.6" y="79.6" font-size="13.4" fill="#131722" text-anchor="start" font-weight="normal"  textLength="35.0" lengthAdjust="spacingAndGlyphs">מחזור</text>
<text x="66.6" y="79.6" font-size="15.8" fill="#26a69a" text-anchor="start" font-weight="normal"  textLength="56.8" lengthAdjust="spacingAndGlyphs">352.74&#8201;K</text>
<g fill="#141414"><path d="M15.4 834.7h15.5v17.9h-8v-10.9h-7.5z"/><circle cx="37.1" cy="838.1" r="3.5"/><path d="M43.8 834.7h9l-7.4 17.9h-8.3z"/></g>
<text x="62" y="852.6" font-size="25" fill="#141414" text-anchor="start" font-weight="bold" letter-spacing="0.45" stroke="#141414" stroke-width="0.35">TradingView</text>
</svg></body></html>
